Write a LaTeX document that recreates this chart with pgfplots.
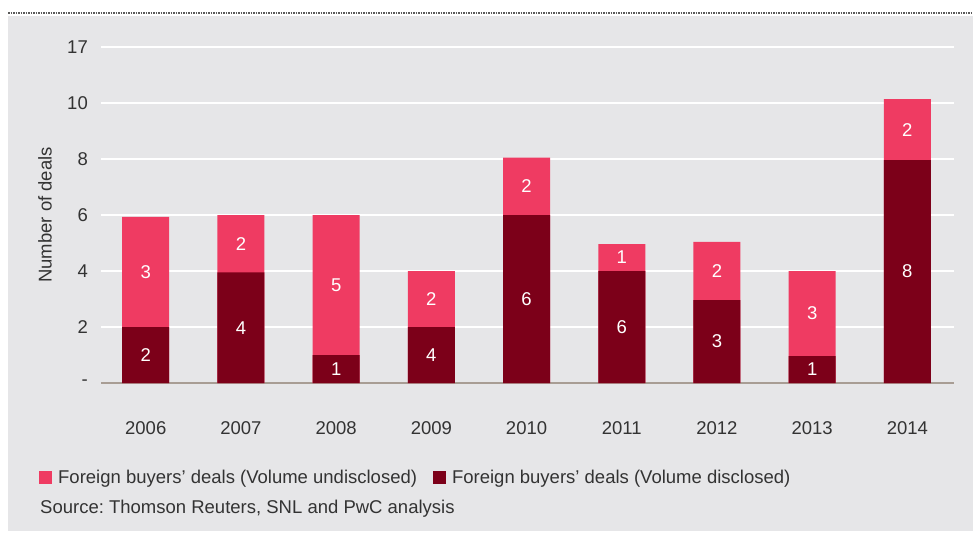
\documentclass[border=0pt]{standalone}
\usepackage{pgfplots}
\pgfplotsset{compat=1.18}
\usepackage{pgfplotstable}
\usepackage{fontspec}
\setmainfont{Liberation Sans}
\frenchspacing
\definecolor{pinkc}{HTML}{EF3B62}
\definecolor{darkc}{HTML}{7C0019}
\definecolor{bgc}{HTML}{E6E6E8}
\definecolor{txt}{HTML}{333333}
\definecolor{basec}{HTML}{A89D94}
\newcommand{\fs}{\fontsize{18.5}{22}\selectfont}

\pgfplotstableread{
x dark total
0 2 5.93
1 3.95 6.0
2 1 6.0
3 2 4
4 6 8.05
5 4 4.96
6 2.96 5.04
7 0.96 4.0
8 7.96 10.14
}\bars

\pgfplotstableread{
x y lab
0 1 2
0 3.965 3
1 1.975 4
1 4.975 2
2 0.5 1
2 3.5 5
3 1 4
3 3 2
4 3 6
4 7.03 2
5 2 6
5 4.48 1
6 1.48 3
6 4.0 2
7 0.48 1
7 2.48 3
8 3.98 8
8 9.05 2
}\labs

\begin{document}
\begin{tikzpicture}[x=1pt,y=1pt]
\useasboundingbox (0,0) rectangle (973,533);
\fill[white] (0,0) rectangle (973,533);
\fill[bgc] (8,2) rectangle (973,517);
\draw[densely dotted, line width=1.5pt, color=black!65] (8,520) -- (973,520);
\begin{axis}[
  at={(101pt,150pt)}, anchor=south west,
  scale only axis, width=853pt, height=336pt,
  xmin=-0.47, xmax=8.49, ymin=0, ymax=12,
  xtick={0,1,2,3,4,5,6,7,8},
  xticklabels={2006,2007,2008,2009,2010,2011,2012,2013,2014},
  ytick={2,4,6,8,10,12}, yticklabels={2,4,6,8,10,17},
  extra y ticks={0}, extra y tick labels={-},
  extra y tick style={major grid style={draw=basec, line width=2pt}},
  ymajorgrids, grid style={white, line width=1.5pt},
  axis line style={draw=none}, tick style={draw=none},
  tick label style={font=\fs, text=txt},
  xticklabel style={anchor=north, inner sep=0pt, yshift=-38pt},
  yticklabel style={anchor=east, inner sep=0pt, xshift=-13pt},
  ylabel={Number of deals},
  ylabel style={at={(axis description cs:-0.0657,0.5)}, anchor=center, font=\fs, text=txt},
  legend columns=2,
  legend style={at={(axis description cs:-0.0727,-0.28)}, anchor=west,
    draw=none, fill=none, font=\fs, text=txt, inner xsep=0pt, inner ysep=0pt,
    nodes={inner xsep=3pt},
    /tikz/every even column/.append style={column sep=13pt}},
]
\addplot[ybar, bar width=47pt, bar shift=0pt, fill=pinkc, draw=none,
  legend image code/.code={\fill[pinkc] (0pt,-6.5pt) rectangle (13pt,6.5pt); \path (16pt,0pt);}]
  table[x=x,y=total]{\bars};
\addlegendentry{Foreign buyers' deals (Volume undisclosed)}
\addplot[ybar, bar width=47pt, bar shift=0pt, fill=darkc, draw=none,
  legend image code/.code={\fill[darkc] (0pt,-6.5pt) rectangle (13pt,6.5pt); \path (16pt,0pt);}]
  table[x=x,y=dark]{\bars};
\addlegendentry{Foreign buyers' deals (Volume disclosed)}
\addplot[draw=none, mark=none, forget plot, nodes near coords,
  point meta=explicit symbolic,
  every node near coord/.append style={anchor=center, text=white, font=\fs}]
  table[x=x,y=y,meta=lab]{\labs};
\end{axis}
\node[anchor=base west, inner sep=0pt, font=\fs, text=txt] at (40,20) {Source: Thomson Reuters, SNL and PwC analysis};
\end{tikzpicture}
\end{document}
